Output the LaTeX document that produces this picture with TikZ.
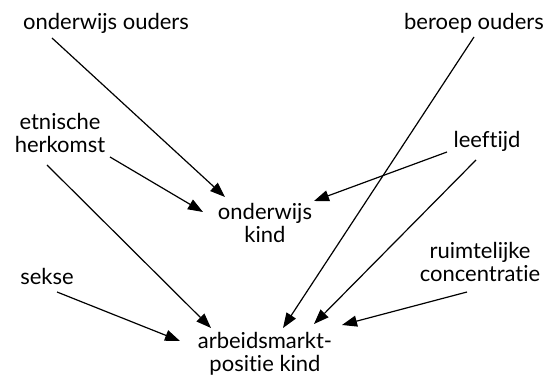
\documentclass[tikz,border=0pt]{standalone}
\usepackage{fontspec}
\setmainfont{Lato}[Ligatures={NoCommon}]
\usetikzlibrary{positioning, calc, arrows.meta}

\begin{document}
\begin{tikzpicture}[x=1pt, y=-1pt, lbl/.style={anchor=base, align=center, inner sep=0pt, font=\fontsize{22}{23}\selectfont}, arr/.style={-{Triangle[length=15pt, width=11pt]}, line width=1.2pt}]
		\useasboundingbox (0,0) rectangle (547,377);
		\node[lbl] (OO) at (106,30) {onderwijs ouders}; \node[lbl] (BO) at (474,30) {beroep ouders};
		\node[lbl] (EH) at (60,153) {etnische\\herkomst}; \node[lbl] (LT) at (487,148) {leeftijd};
		\node[lbl] (OK) at (265,243) {onderwijs\\kind};
		\node[lbl] (SE) at (47,285) {sekse}; \node[lbl] (RC) at (480,282) {ruimtelijke\\concentratie};
		\node[lbl] (AP) at (265,371) {arbeidsmarkt-\\positie kind};
		\draw[arr] ($(OO.base)+(-54,8)$) -- ($(OK.base)+(-40,-46)$);
		\draw[arr] ($(EH.base)+(50,4)$) -- ($(OK.base)+(-62,-31)$);
		\draw[arr] ($(EH.base)+(-13,12)$) -- ($(AP.base)+(-54,-43)$);
		\draw[arr] ($(SE.base)+(10,7)$) -- ($(AP.base)+(-85,-30)$);
		\draw[arr] ($(BO.base)+(0,7)$) -- ($(AP.base)+(18,-43)$);
		\draw[arr] ($(LT.base)+(-40,4)$) -- ($(OK.base)+(49,-42)$);
		\draw[arr] ($(LT.base)+(-11,12)$) -- ($(AP.base)+(49,-47)$);
		\draw[arr] ($(RC.base)+(-13,10)$) -- ($(AP.base)+(77,-46)$);
	\end{tikzpicture}
\end{document}
